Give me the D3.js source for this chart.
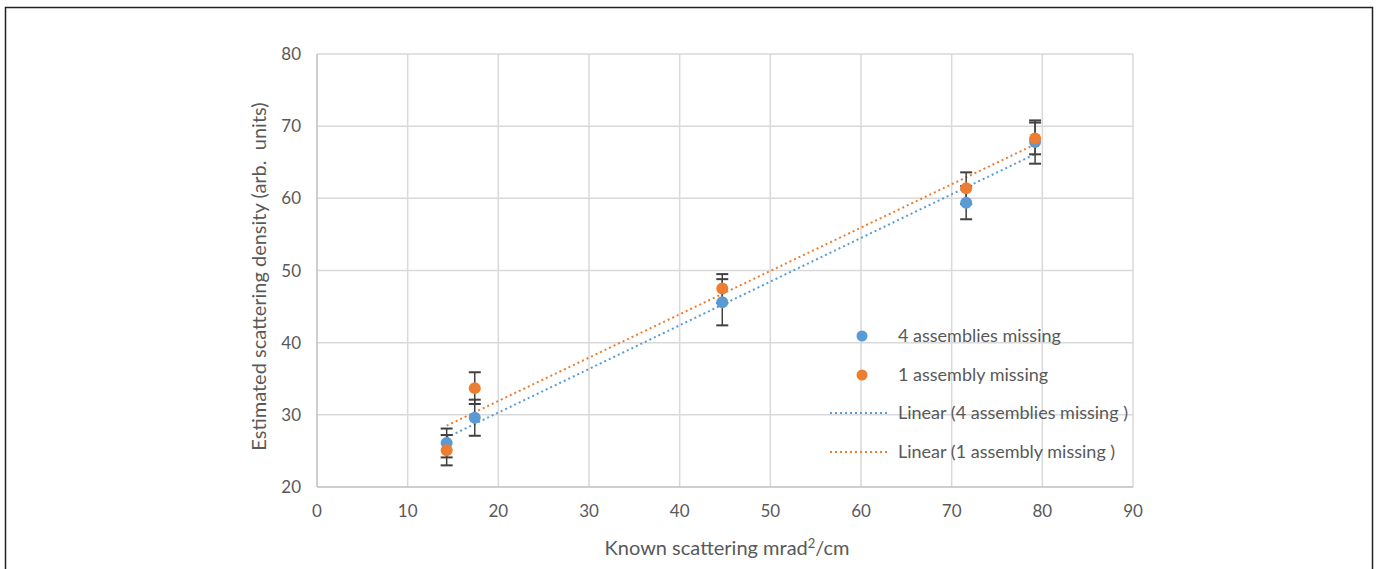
<!DOCTYPE html>
<html>
<head>
<meta charset="utf-8">
<script src="https://cdn.jsdelivr.net/npm/d3@7"></script>
<style>
  body { margin: 0; background: #fff; }
  svg { display: block; }
</style>
</head>
<body>
<script>
      var w = 1378;
      var h = 569;

      // values
      var knownX = [14.3, 17.4, 44.7, 71.6, 79.2];
      var fourMissing = [26.1, 29.6, 45.6, 59.4, 67.8];
      var fourErr = [2.0, 2.5, 3.2, 2.3, 3.0];
      var oneMissing = [25.1, 33.7, 47.5, 61.4, 68.3];
      var oneErr = [2.1, 2.2, 2.0, 2.2, 2.2];
      var xTicks = [0, 10, 20, 30, 40, 50, 60, 70, 80, 90];
      var yTicks = [20, 30, 40, 50, 60, 70, 80];
      var seriesNames = ["4 assemblies missing", "1 assembly missing"];
      var trendNames = ["Linear (4 assemblies missing )", "Linear (1 assembly missing )"];

      var blue = "#5b9bd5";
      var orange = "#ed7d31";
      var textCol = "#595959";
      var font = "Lato, 'Open Sans', sans-serif";

      var pLeft = 317, pRight = 1133, pTop = 54, pBottom = 487;

      var x = d3.scaleLinear().domain([0, 90]).range([pLeft, pRight]);
      var y = d3.scaleLinear().domain([20, 80]).range([pBottom, pTop]);

      var svg = d3.select("body")
                  .append("svg")
                  .attr("width", w)
                  .attr("height", h);

      // outer frame
      svg.append("rect")
         .attr("x", 5.5).attr("y", 7.5)
         .attr("width", 1367).attr("height", 570)
         .attr("fill", "none")
         .attr("stroke", "#222")
         .attr("stroke-width", 1.5);

      // grid
      svg.selectAll("line.vgrid")
         .data(xTicks.slice(1))
         .enter()
         .append("line")
         .attr("x1", function(d){return x(d);})
         .attr("x2", function(d){return x(d);})
         .attr("y1", pTop).attr("y2", pBottom)
         .attr("stroke", "#d9d9d9").attr("stroke-width", 1.5);

      svg.selectAll("line.hgrid")
         .data(yTicks.slice(1))
         .enter()
         .append("line")
         .attr("x1", pLeft).attr("x2", pRight)
         .attr("y1", function(d){return y(d);})
         .attr("y2", function(d){return y(d);})
         .attr("stroke", "#d9d9d9").attr("stroke-width", 1.5);

      // axes lines
      svg.append("line")
         .attr("x1", pLeft).attr("x2", pLeft).attr("y1", pTop).attr("y2", pBottom)
         .attr("stroke", "#bfbfbf").attr("stroke-width", 1.5);
      svg.append("line")
         .attr("x1", pLeft).attr("x2", pRight).attr("y1", pBottom).attr("y2", pBottom)
         .attr("stroke", "#bfbfbf").attr("stroke-width", 1.5);

      // tick labels
      svg.selectAll("text.xt")
         .data(xTicks)
         .enter()
         .append("text")
         .text(function(d){return d;})
         .attr("x", function(d){return x(d);})
         .attr("y", pBottom + 30)
         .attr("text-anchor", "middle")
         .attr("font-family", font)
         .attr("font-size", "17px")
         .attr("fill", textCol);

      svg.selectAll("text.yt")
         .data(yTicks)
         .enter()
         .append("text")
         .text(function(d){return d;})
         .attr("x", pLeft - 16)
         .attr("y", function(d){return y(d) + 6;})
         .attr("text-anchor", "end")
         .attr("font-family", font)
         .attr("font-size", "17px")
         .attr("fill", textCol);

      // axis titles
      var xt = svg.append("text")
         .attr("x", (pLeft + pRight) / 2 + 2)
         .attr("y", 555)
         .attr("text-anchor", "middle")
         .attr("font-family", font)
         .attr("font-size", "20px")
         .attr("fill", textCol);
      xt.append("tspan").text("Known scattering mrad");
      xt.append("tspan").text("2").attr("font-size", "13px").attr("dy", -7);
      xt.append("tspan").text("/cm").attr("dy", 7);

      svg.append("text")
         .text("Estimated scattering density (arb.  units)")
         .attr("transform", "translate(266," + ((pTop + pBottom) / 2 + 6) + ") rotate(-90)")
         .attr("text-anchor", "middle")
         .attr("font-family", font)
         .attr("font-size", "20px")
         .attr("fill", textCol)
         .style("white-space", "pre");

      // linear fits from the data
      function fit(xs, ys) {
        var mx = d3.mean(xs), my = d3.mean(ys);
        var sxy = 0, sxx = 0;
        for (var i = 0; i < xs.length; i++) {
          sxy += (xs[i] - mx) * (ys[i] - my);
          sxx += (xs[i] - mx) * (xs[i] - mx);
        }
        var b = sxy / sxx;
        return function(v){return my + b * (v - mx);};
      }

      var series = [
        {vals: fourMissing, err: fourErr, color: blue},
        {vals: oneMissing, err: oneErr, color: orange}
      ];

      var x0 = d3.min(knownX), x1 = d3.max(knownX);
      series.forEach(function(s) {
        var f = fit(knownX, s.vals);
        svg.append("line")
           .attr("x1", x(x0)).attr("y1", y(f(x0)))
           .attr("x2", x(x1)).attr("y2", y(f(x1)))
           .attr("stroke", s.color)
           .attr("stroke-width", 2)
           .attr("stroke-dasharray", "2,3");
      });

      // error bars then markers
      series.forEach(function(s) {
        var g = svg.append("g");
        var pts = knownX.map(function(d, i){return {x: d, y: s.vals[i], e: s.err[i]};});
        g.selectAll("line.eb")
         .data(pts)
         .enter()
         .append("line")
         .attr("x1", function(d){return x(d.x);})
         .attr("x2", function(d){return x(d.x);})
         .attr("y1", function(d){return y(d.y - d.e);})
         .attr("y2", function(d){return y(d.y + d.e);})
         .attr("stroke", "#404040").attr("stroke-width", 1.5);
        [-1, 1].forEach(function(sign) {
          g.selectAll("line.cap" + sign)
           .data(pts)
           .enter()
           .append("line")
           .attr("x1", function(d){return x(d.x) - 6;})
           .attr("x2", function(d){return x(d.x) + 6;})
           .attr("y1", function(d){return y(d.y + sign * d.e);})
           .attr("y2", function(d){return y(d.y + sign * d.e);})
           .attr("stroke", "#404040").attr("stroke-width", 2);
        });
      });

      series.forEach(function(s) {
        svg.selectAll(null)
           .data(knownX)
           .enter()
           .append("circle")
           .attr("cx", function(d){return x(d);})
           .attr("cy", function(d, i){return y(s.vals[i]);})
           .attr("r", 6)
           .attr("fill", s.color);
      });

      // legend
      var legY = [336, 375, 413, 452];
      var legX = 898;

      [blue, orange].forEach(function(c, i) {
        svg.append("circle")
           .attr("cx", 862).attr("cy", legY[i]).attr("r", 5.5).attr("fill", c);
        svg.append("text")
           .text(seriesNames[i])
           .attr("x", legX).attr("y", legY[i] + 6)
           .attr("font-family", font).attr("font-size", "18px")
           .attr("fill", textCol);
      });
      [blue, orange].forEach(function(c, i) {
        svg.append("line")
           .attr("x1", 830).attr("x2", 888)
           .attr("y1", legY[i + 2]).attr("y2", legY[i + 2])
           .attr("stroke", c).attr("stroke-width", 2)
           .attr("stroke-dasharray", "2,3");
        svg.append("text")
           .text(trendNames[i])
           .attr("x", legX).attr("y", legY[i + 2] + 6)
           .attr("font-family", font).attr("font-size", "18px")
           .attr("fill", textCol);
      });
</script>
</body>
</html>
